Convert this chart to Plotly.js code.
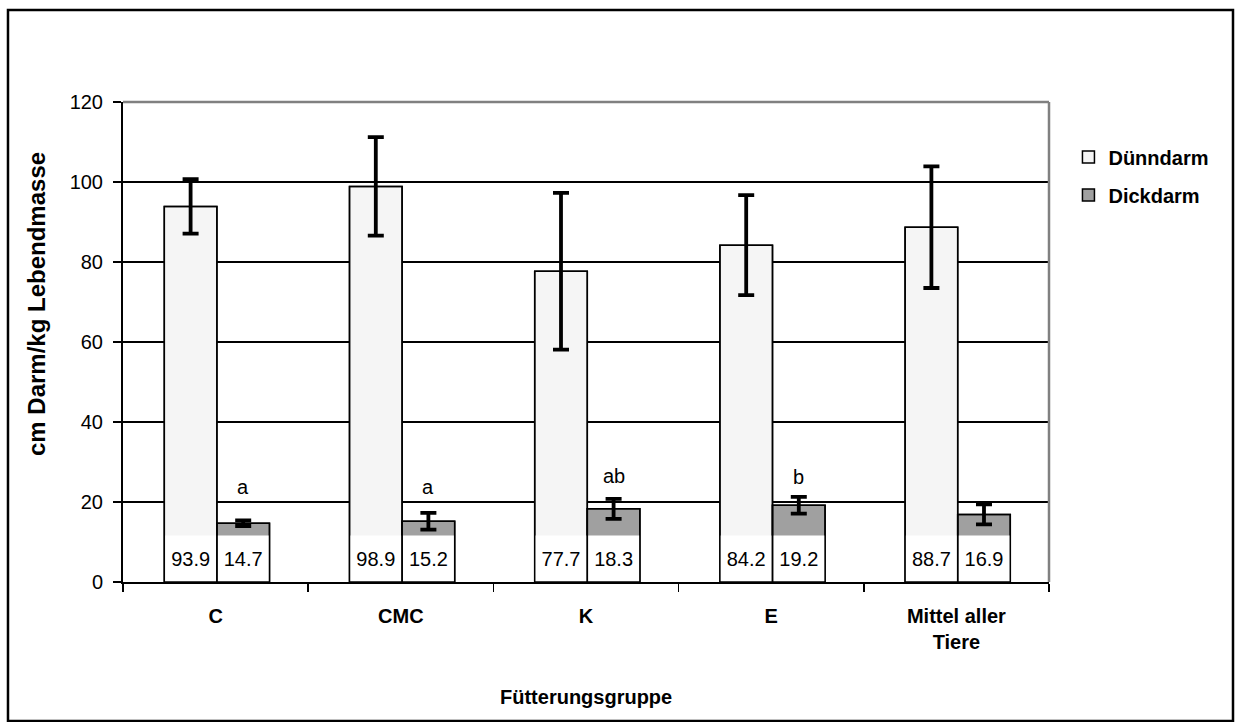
<!DOCTYPE html>
<html>
<head>
<meta charset="utf-8">
<script src="https://cdn.plot.ly/plotly-3.0.1.min.js"></script>
<style>html,body{margin:0;padding:0;background:#fff;}#chart{width:1235px;height:722px;}</style>
</head>
<body>
<div id="chart"></div>
<script>
// ---- data ----
const categories = ['C', 'CMC', 'K', 'E', 'Mittel aller<br>Tiere'];
const duenndarm = [93.9, 98.9, 77.7, 84.2, 88.7];
const duenndarmErr = [6.8, 12.3, 19.6, 12.5, 15.2];
const dickdarm = [14.7, 15.2, 18.3, 19.2, 16.9];
const dickdarmErr = [0.7, 2.1, 2.5, 2.1, 2.5];
const sigLetters = ['a', 'a', 'ab', 'b', ''];
const sigLetterY = [23.8, 23.8, 26.6, 26.3, 0];
const labelBoxTop = 11.6;
const yTicks = [0, 20, 40, 60, 80, 100, 120];

// ---- style ----
const FONT = 'Liberation Sans, Arial, sans-serif';
const W = 0.284;       // bar width in category units
const S = 0.007;       // slight shift of the bar pair
const labelHeights = categories.map(() => labelBoxTop);
const fmt = v => v.toFixed(1);

const errStyle = {type: 'data', visible: true, color: '#000', thickness: 3.8, width: 8};

const traces = [
  {type: 'bar', name: '<b>Dünndarm</b>', x: categories, y: duenndarm, width: W, offset: -W + S,
   marker: {color: '#f5f5f5', line: {color: '#000', width: 1.5}},
   error_y: Object.assign({array: duenndarmErr}, errStyle), hoverinfo: 'skip', legendgroup: 'g1'},
  {type: 'bar', name: '<b>Dickdarm</b>', x: categories, y: dickdarm, width: W, offset: S,
   marker: {color: '#a0a0a0', line: {color: '#000', width: 1.5}},
   error_y: Object.assign({array: dickdarmErr}, errStyle), hoverinfo: 'skip', legendgroup: 'g2'},
  // white value label boxes
  {type: 'bar', x: categories, y: labelHeights, width: W, offset: -W + S, showlegend: false,
   marker: {color: '#ffffff', line: {width: 0}}, text: duenndarm.map(fmt), textposition: 'inside',
   insidetextanchor: 'middle', textangle: 0, constraintext: 'none',
   textfont: {family: FONT, size: 20, color: '#000'}, hoverinfo: 'skip'},
  {type: 'bar', x: categories, y: labelHeights, width: W, offset: S, showlegend: false,
   marker: {color: '#ffffff', line: {width: 0}}, text: dickdarm.map(fmt), textposition: 'inside',
   insidetextanchor: 'middle', textangle: 0, constraintext: 'none',
   textfont: {family: FONT, size: 20, color: '#000'}, hoverinfo: 'skip'},
  // outlines on top
  {type: 'bar', x: categories, y: duenndarm, width: W, offset: -W + S, showlegend: false,
   marker: {color: 'rgba(0,0,0,0)', line: {color: '#000', width: 1.5}}, hoverinfo: 'skip'},
  {type: 'bar', x: categories, y: dickdarm, width: W, offset: S, showlegend: false,
   marker: {color: 'rgba(0,0,0,0)', line: {color: '#000', width: 1.5}}, hoverinfo: 'skip'}
];

const annotations = [];
sigLetters.forEach((t, i) => {
  if (!t) return;
  annotations.push({x: i + S + W / 2, y: sigLetterY[i], xref: 'x', yref: 'y', text: t, showarrow: false,
    xanchor: 'center', yanchor: 'middle', font: {family: FONT, size: 20, color: '#000'}});
});
annotations.push({xref: 'paper', yref: 'paper', x: -0.094, y: 0.579, xanchor: 'center', yanchor: 'middle',
  text: '<b>cm Darm/kg Lebendmasse</b>', textangle: -90, showarrow: false,
  font: {family: FONT, size: 24, color: '#000'}});
annotations.push({xref: 'paper', yref: 'paper', x: 0.5, y: -0.2396, xanchor: 'center', yanchor: 'middle',
  text: '<b>Fütterungsgruppe</b>', showarrow: false, font: {family: FONT, size: 20, color: '#000'}});

const layout = {
  width: 1235, height: 722,
  margin: {l: 123, r: 186, t: 102, b: 140, pad: 0},
  paper_bgcolor: '#fff', plot_bgcolor: '#fff',
  barmode: 'overlay',
  showlegend: true,
  legend: {x: 1.021, y: 0.926, xanchor: 'left', yanchor: 'top', tracegroupgap: 9,
    font: {family: FONT, size: 20, color: '#000'}, bgcolor: 'rgba(0,0,0,0)'},
  xaxis: {type: 'category', range: [-0.5, 4.5], tickson: 'boundaries', ticks: 'outside', ticklen: 8,
    tickwidth: 1.5, tickcolor: '#000', showline: true, linecolor: '#000', linewidth: 2, showgrid: false,
    tickfont: {family: FONT, size: 20, color: '#000', weight: 'bold'}, ticklabelstandoff: 15,
    fixedrange: true},
  yaxis: {range: [0, 120], tickvals: yTicks, ticktext: yTicks.map(String), ticks: 'outside', ticklen: 8,
    tickwidth: 1.5, tickcolor: '#000', showline: true, linecolor: '#000', linewidth: 2,
    showgrid: true, gridcolor: '#000', gridwidth: 1.5, zeroline: false,
    tickfont: {family: FONT, size: 20, color: '#000'}, ticklabelstandoff: 6, fixedrange: true},
  annotations: annotations,
  shapes: [
    {type: 'line', xref: 'paper', yref: 'paper', x0: 0, x1: 1, y0: 1, y1: 1, line: {color: '#808080', width: 2.5}, layer: 'above'},
    {type: 'line', xref: 'paper', yref: 'paper', x0: 1, x1: 1, y0: 0, y1: 1, line: {color: '#808080', width: 2.5}, layer: 'above'},
    {type: 'rect', xref: 'paper', yref: 'paper', x0: -0.1242, x1: 1.1987, y0: -0.2896, y1: 1.1917,
     line: {color: '#000', width: 2.5}, fillcolor: 'rgba(0,0,0,0)', layer: 'below'}
  ]
};

Plotly.newPlot('chart', traces, layout, {displayModeBar: false, staticPlot: true});
</script>
</body>
</html>
